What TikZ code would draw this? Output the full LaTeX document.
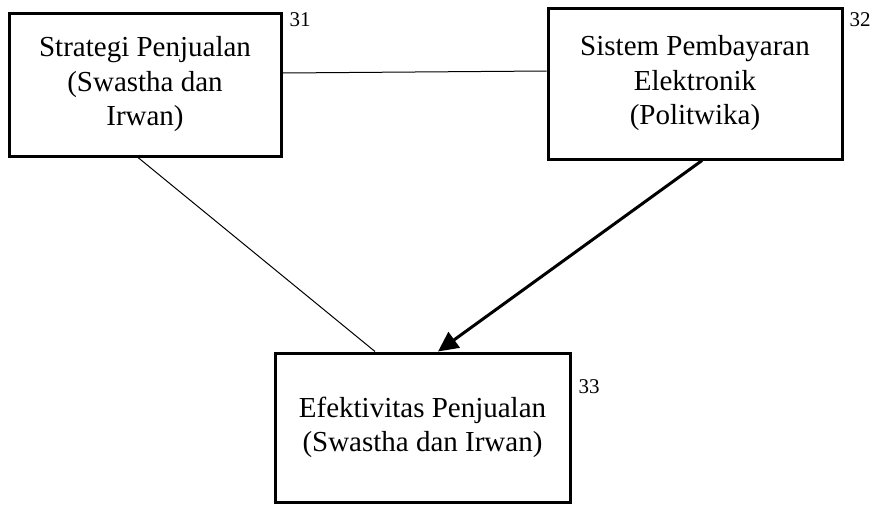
\documentclass[tikz,border=0pt]{standalone}
\usepackage{fontspec}
\setmainfont{Liberation Serif}
\usetikzlibrary{arrows.meta}
\begin{document}
\begin{tikzpicture}[x=1pt,y=-1pt,
  box/.style={draw, line width=3pt, inner sep=0pt, align=center,
    font=\fontsize{29}{34.5}\selectfont},
  num/.style={font=\fontsize{21}{24}\selectfont, inner sep=0pt},
  link/.style={line width=1pt},
  bigarrow/.style={line width=3pt, -{Triangle[length=20pt,width=19pt]}}]
\useasboundingbox (0,0) rectangle (873,504);
\node[box, minimum width=272pt, minimum height=143pt] (b1) at (145,84.5)
  {Strategi Penjualan\\(Swastha dan\\Irwan)};
\node[box, minimum width=294pt, minimum height=151pt] (b2) at (695,83.5)
  {Sistem Pembayaran\\Elektronik\\(Politwika)};
\node[box, minimum width=295pt, minimum height=149pt] (b3) at (422.5,427.5)
  {Efektivitas Penjualan\\(Swastha dan Irwan)};
\node[num] (n31) at (300,20) {31};
\node[num] (n32) at (860,20) {32};
\node[num] (n33) at (589,387) {33};
\draw[link] ([yshift=11.5pt]b1.east) -- ([yshift=12.5pt]b2.west);
\draw[link] ([xshift=-7pt]b1.south) -- ([xshift=-47.5pt]b3.north);
\draw[bigarrow] ([xshift=7pt]b2.south) -- ([xshift=15.5pt]b3.north);
\end{tikzpicture}
\end{document}
